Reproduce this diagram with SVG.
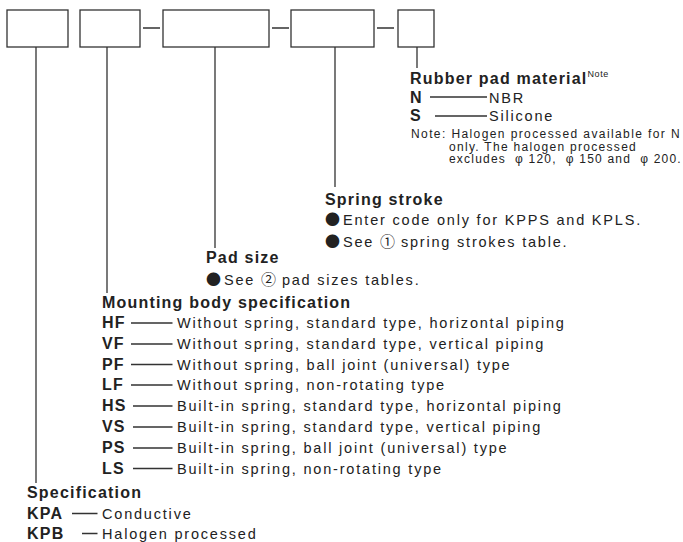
<svg xmlns="http://www.w3.org/2000/svg" width="683" height="542" viewBox="0 0 683 542">
<style>
text{font-family:"Liberation Sans","Noto Sans CJK JP",sans-serif;fill:#222}
.b{font-size:16px;font-weight:bold;letter-spacing:1.2px}
.r{font-size:14.5px;letter-spacing:1.8px}
.n{font-size:12px;letter-spacing:1.2px}
.sup{font-size:9px;letter-spacing:0.6px}
.bul{font-family:"Noto Sans CJK JP",sans-serif;font-size:15px;letter-spacing:0}
.cn{font-family:"Noto Sans CJK JP",sans-serif;font-size:15px;letter-spacing:0}
.box{fill:#fff;stroke:#333;stroke-width:1.3}
.ln{stroke:#333;stroke-width:1.3;fill:none}
</style>
<rect width="683" height="542" fill="#fff"/>
<g id="box-spec"><rect class="box" x="7" y="10" width="61" height="37"/></g>
<g id="box-mount"><rect class="box" x="80" y="10" width="60" height="37"/></g>
<g id="box-pad"><rect class="box" x="163" y="10" width="106" height="37"/></g>
<g id="box-stroke"><rect class="box" x="291" y="10" width="83" height="37"/></g>
<g id="box-rubber"><rect class="box" x="398" y="10" width="36" height="37"/></g>
<g id="connectors" class="ln">
<path d="M143 28H160M272 28H289M377 28H394"/>
<path d="M36 47V483M107 47V293M215 47V248M335 47V187M417 47V68"/>
<path d="M430 97H487M435 116H487"/>
<path d="M131 323H172.5M131 344H172.5M131 364.5H172.5M131 385H172.5M133 406H172.5M133 427H172.5M133 448H172.5M133 468.5H172.5"/>
<path d="M72 513.5H97.5M82 533.5H97.5"/>
</g>
<g id="rubber">
<text class="b" x="410" y="84">Rubber pad material<tspan class="sup" font-weight="normal" dy="-7">Note</tspan></text>
<text class="b" x="410" y="102.5">N</text><text class="r" x="489" y="102.5">NBR</text>
<text class="b" x="410" y="121">S</text><text class="r" x="489" y="121">Silicone</text>
<text class="n" x="411" y="137.5" style="letter-spacing:1.4px">Note: Halogen processed available for N</text>
<text class="n" x="449" y="150.5" style="letter-spacing:1.3px">only. The halogen processed</text>
<text class="n" x="449" y="163" style="white-space:pre">excludes  φ 120,  φ 150 and  φ 200.</text>
</g>
<g id="stroke">
<text class="b" x="325" y="205">Spring stroke</text>
<text class="r" x="325" y="225"><tspan class="bul">●</tspan><tspan x="343">Enter code only for KPPS and KPLS.</tspan></text>
<text class="r" x="325" y="246.8"><tspan class="bul">●</tspan><tspan x="343">See </tspan><tspan class="cn">①</tspan> spring strokes table.</text>
</g>
<g id="pad">
<text class="b" x="206" y="263">Pad size</text>
<text class="r" x="206" y="284.5"><tspan class="bul">●</tspan><tspan x="224">See </tspan><tspan class="cn">②</tspan> pad sizes tables.</text>
</g>
<g id="mount">
<text class="b" x="102" y="308">Mounting body specification</text>
<text class="b" x="102" y="328">HF</text><text class="r" x="177" y="328">Without spring, standard type, horizontal piping</text>
<text class="b" x="102" y="349">VF</text><text class="r" x="177" y="349">Without spring, standard type, vertical piping</text>
<text class="b" x="102" y="369.5">PF</text><text class="r" x="177" y="369.5">Without spring, ball joint (universal) type</text>
<text class="b" x="102" y="390">LF</text><text class="r" x="177" y="390">Without spring, non-rotating type</text>
<text class="b" x="102" y="411">HS</text><text class="r" x="177" y="411">Built-in spring, standard type, horizontal piping</text>
<text class="b" x="102" y="432">VS</text><text class="r" x="177" y="432">Built-in spring, standard type, vertical piping</text>
<text class="b" x="102" y="453">PS</text><text class="r" x="177" y="453">Built-in spring, ball joint (universal) type</text>
<text class="b" x="102" y="473.5">LS</text><text class="r" x="177" y="473.5">Built-in spring, non-rotating type</text>
</g>
<g id="spec">
<text class="b" x="27" y="498">Specification</text>
<text class="b" x="27" y="518.5">KPA</text><text class="r" x="102" y="518.5">Conductive</text>
<text class="b" x="27" y="538.5">KPB</text><text class="r" x="102" y="538.5">Halogen processed</text>
</g>
</svg>
